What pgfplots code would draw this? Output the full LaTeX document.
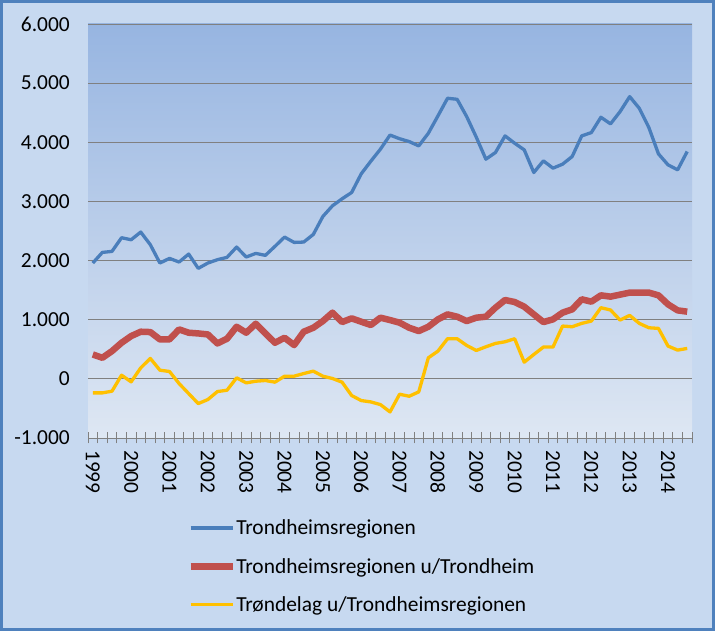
\documentclass[border=0pt]{standalone}
\usepackage{pgfplots}
\usepackage{pgfplotstable}
\pgfplotsset{compat=1.18}
\usepackage{fontspec}
\setmainfont{Carlito}
\definecolor{outerbg}{RGB}{199,217,240}
\definecolor{frameblue}{RGB}{79,129,189}
\definecolor{plottop}{RGB}{151,181,225}
\definecolor{plotbot}{RGB}{222,231,243}
\definecolor{sblue}{RGB}{74,126,187}
\definecolor{sred}{RGB}{192,80,77}
\definecolor{syellow}{RGB}{255,192,0}
\definecolor{gridgray}{RGB}{128,128,128}

\pgfplotstableread{
q b r y
0 1958 412 -237
1 2138 356 -237
2 2155 469 -209
3 2386 610 62
4 2352 723 -51
5 2482 797 186
6 2268 791 345
7 1958 667 147
8 2037 667 124
9 1975 836 -79
10 2110 780 -249
11 1868 768 -418
12 1958 751 -350
13 2015 599 -215
14 2054 678 -192
15 2228 881 17
16 2060 780 -68
17 2121 932 -40
18 2088 768 -28
19 2240 610 -56
20 2397 695 45
21 2307 571 45
22 2313 797 90
23 2442 864 130
24 2746 977 45
25 2926 1119 6
26 3044 960 -56
27 3151 1023 -282
28 3467 966 -367
29 3680 910 -390
30 3883 1034 -435
31 4122 994 -559
32 4060 950 -260
33 4012 864 -294
34 3939 808 -220
35 4153 881 356
36 4446 1006 469
37 4744 1090 678
38 4727 1051 678
39 4434 977 565
40 4086 1034 480
41 3714 1051 542
42 3827 1203 599
43 4108 1333 627
44 3984 1299 678
45 3872 1220 282
46 3489 1090 412
47 3686 960 537
48 3562 1006 537
49 3630 1119 893
50 3759 1175 881
51 4108 1345 938
52 4164 1305 977
53 4423 1412 1203
54 4311 1390 1164
55 4519 1424 994
56 4772 1458 1073
57 4575 1458 938
58 4249 1458 864
59 3804 1412 853
60 3618 1260 554
61 3534 1158 486
62 3844 1136 514
}\datatable

\begin{document}
\begin{tikzpicture}[x=1bp,y=1bp]
\path[use as bounding box] (0,0) rectangle (715,631);
\fill[outerbg] (0,0) rectangle (715,631);
\draw[frameblue, line width=3bp] (1.5,1.5) rectangle (713.5,629.5);
\begin{axis}[
  at={(88bp,193bp)}, anchor=south west,
  width=604bp, height=414bp, scale only axis,
  xmin=-0.5, xmax=62.5, ymin=-1000, ymax=6000,
  axis background/.style={top color=plottop, bottom color=plotbot},
  axis x line*=bottom, axis y line*=left,
  y axis line style={draw=none},
  x axis line style={draw=gridgray, line width=0.8bp, -},
  ytick={-1000,0,1000,2000,3000,4000,5000,6000},
  ymajorgrids, grid style={gridgray, line width=0.9bp},
  ytick style={draw opacity=0},
  /pgf/number format/.cd, 1000 sep={.}, fixed, precision=0, assume math mode=true, /pgfplots/.cd,
  xtick={0,4,...,60},
  xticklabels={1999,2000,2001,2002,2003,2004,2005,2006,2007,2008,2009,2010,2011,2012,2013,2014},
  minor xtick={-0.5,0.5,...,62.5},
  xtick align=center,
  major tick length=0pt,
  minor tick length=11bp,
  xtick style={color=gridgray, line width=0.8bp},
  tick label style={font=\fontsize{21.5}{25}\selectfont, text=black},
  xticklabel style={rotate=-90, anchor=west, inner sep=0pt},
  xticklabel shift={12bp},
  yticklabel style={anchor=east, inner sep=0pt, xshift=-18bp},
  legend style={at={(0.164,-0.196)}, anchor=north west, draw=none, fill=none,
     font=\fontsize{21.5}{25}\selectfont, row sep=21bp, inner sep=0pt,
     nodes={inner sep=0.5bp}},
  legend cell align=left,
  legend image code/.code={\draw[#1] (0bp,0bp) -- (42bp,0bp);},
]
\addplot[sblue, line width=3.3bp, line join=round] table[x=q, y=b] {\datatable};
\addlegendentry{Trondheimsregionen}
\addplot[sred, line width=6.5bp, line join=round] table[x=q, y=r] {\datatable};
\addlegendentry{Trondheimsregionen u/Trondheim}
\addplot[syellow, line width=3.3bp, line join=round] table[x=q, y=y] {\datatable};
\addlegendentry{Trøndelag u/Trondheimsregionen}
\end{axis}
\end{tikzpicture}
\end{document}
